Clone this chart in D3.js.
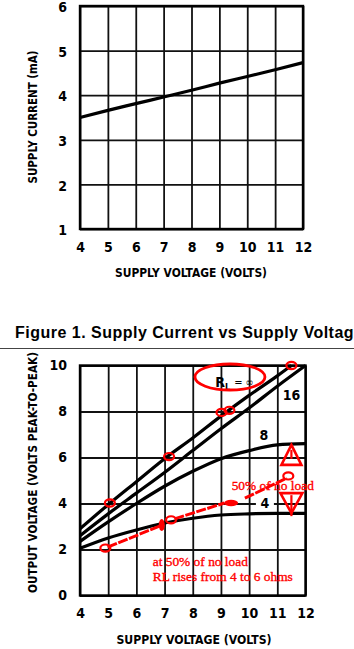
<!DOCTYPE html>
<html>
<head>
<meta charset="utf-8">
<script src="https://cdn.jsdelivr.net/npm/d3@7"></script>
<style>
  body { margin: 0; background: #fff; }
  svg { display: block; }
</style>
</head>
<body>
<div id="chart"></div>
<script>
// supply current / output voltage datasheet curves, with red markup

// ---- data ----
var voltTicks = [4, 5, 6, 7, 8, 9, 10, 11, 12];
var currentTicks = [1, 2, 3, 4, 5, 6];
var outTicks = [0, 2, 4, 6, 8, 10];

// figure 1: supply current (mA) vs supply voltage
var supplyVolts = [4, 5, 6, 7, 8, 9, 10, 11, 12];
var supplyCurrent = [3.5, 3.66, 3.81, 3.96, 4.11, 4.27, 4.42, 4.57, 4.73];

// output voltage (Vp-p) vs supply voltage, one array per load
var rlInfVolts = [4, 5, 6, 7, 8, 9, 10, 11, 11.5];
var rlInf = [2.9, 3.95, 4.95, 5.95, 6.85, 7.8, 8.7, 9.55, 10];
var rl16 = [2.6, 3.55, 4.45, 5.35, 6.3, 7.25, 8.15, 9.1, 10];
var rl8 = [2.35, 3.2, 4.0, 4.75, 5.4, 5.95, 6.3, 6.55, 6.6];
var rl4 = [2.05, 2.5, 2.85, 3.15, 3.36, 3.5, 3.55, 3.57, 3.57];

// red markup (in chart units)
var rlOval = [9.32, 9.5];
var markCircles = [[11.5, 10], [9.02, 7.96], [9.3, 8.05], [7.16, 6.04], [5.06, 4.02],
                   [4.9, 2.06], [7.23, 3.29], [11.39, 5.2]];
var markBlobs = [[6.9, 3.07], [9.36, 4.02]];
var markSegments = [[[4.98, 2.1], [6.85, 3.03]],
                    [[7.35, 3.33], [9.12, 4.02]],
                    [[9.85, 4.23], [11.33, 5.1]]];
var triUp = [11.5, 6.55];
var triDown = [11.5, 4.45];

var narrow = "'Liberation Sans Narrow','DejaVu Sans Condensed','Arial Narrow',sans-serif";

var svg = d3.select("#chart")
  .append("svg")
    .attr("width", 354)
    .attr("height", 649);

// ================= TOP CHART =================
var x1 = d3.scaleLinear().domain([4, 12]).range([80, 303]);
var y1 = d3.scaleLinear().domain([1, 6]).range([229, 6]);

var gTop = svg.append("g");

// grid
gTop.append("g")
    .attr("transform", "translate(0,229)")
    .call(d3.axisBottom(x1).tickValues(voltTicks).tickSize(-223).tickFormat(""))
    .call(g => g.select(".domain").remove())
    .selectAll("line").attr("stroke", "#111").attr("stroke-width", 1.8);
gTop.append("g")
    .attr("transform", "translate(80,0)")
    .call(d3.axisLeft(y1).tickValues(currentTicks).tickSize(-223).tickFormat(""))
    .call(g => g.select(".domain").remove())
    .selectAll("line").attr("stroke", "#111").attr("stroke-width", 1.8);

gTop.append("rect")
    .attr("x", x1(4)).attr("y", y1(6))
    .attr("width", x1(12) - x1(4)).attr("height", y1(1) - y1(6))
    .attr("fill", "none").attr("stroke", "#000").attr("stroke-width", 2.4);

// tick labels
var tx1 = gTop.append("g")
    .attr("transform", "translate(0,229)")
    .call(d3.axisBottom(x1).tickValues(voltTicks).tickFormat(d3.format("d")).tickSize(0).tickPadding(13));
var ty1 = gTop.append("g")
    .attr("transform", "translate(80,0)")
    .call(d3.axisLeft(y1).tickValues(currentTicks).tickFormat(d3.format("d")).tickSize(0).tickPadding(13));
[tx1, ty1].forEach(function(g) {
  g.select(".domain").remove();
  g.selectAll("text")
    .attr("font-family", narrow).attr("font-weight", "bold")
    .attr("font-size", 14).attr("fill", "#000");
});
ty1.selectAll("text").attr("dy", "0.4em");

var line1 = d3.line()
    .x(function(d) { return x1(d[0]); })
    .y(function(d) { return y1(d[1]); })
    .curve(d3.curveMonotoneX);

gTop.append("path")
    .datum(supplyVolts.map(function(v, i) { return [v, supplyCurrent[i]]; }))
    .attr("d", line1)
    .attr("fill", "none").attr("stroke", "#000").attr("stroke-width", 3.2);

gTop.append("text")
    .attr("x", 191).attr("y", 277)
    .attr("text-anchor", "middle")
    .attr("font-family", narrow).attr("font-weight", "bold").attr("font-size", 13)
    .attr("textLength", 152).attr("lengthAdjust", "spacingAndGlyphs")
    .text("SUPPLY VOLTAGE (VOLTS)");

gTop.append("text")
    .attr("transform", "translate(37,117) rotate(-90)")
    .attr("text-anchor", "middle")
    .attr("font-family", narrow).attr("font-weight", "bold").attr("font-size", 13)
    .attr("textLength", 133).attr("lengthAdjust", "spacingAndGlyphs")
    .text("SUPPLY CURRENT (mA)");

// ================= CAPTION =================
svg.append("text")
    .attr("x", 15).attr("y", 337.5)
    .attr("font-family", "'Liberation Sans',Arial,sans-serif")
    .attr("font-weight", "bold").attr("font-size", 16)
    .attr("textLength", 348).attr("lengthAdjust", "spacing")
    .text("Figure 1. Supply Current vs Supply Voltage");

svg.append("line")
    .attr("x1", 0).attr("x2", 354)
    .attr("y1", 348.5).attr("y2", 348.5)
    .attr("stroke", "#444").attr("stroke-width", 1.2);

// ================= BOTTOM CHART =================
var x2 = d3.scaleLinear().domain([4, 12]).range([80, 305.5]);
var y2 = d3.scaleLinear().domain([0, 10]).range([595.5, 365.5]);

var gBot = svg.append("g");

gBot.append("g")
    .attr("transform", "translate(0,595.5)")
    .call(d3.axisBottom(x2).tickValues(voltTicks).tickSize(-230).tickFormat(""))
    .call(g => g.select(".domain").remove())
    .selectAll("line").attr("stroke", "#111").attr("stroke-width", 1.8);
gBot.append("g")
    .attr("transform", "translate(80,0)")
    .call(d3.axisLeft(y2).tickValues(outTicks).tickSize(-225.5).tickFormat(""))
    .call(g => g.select(".domain").remove())
    .selectAll("line").attr("stroke", "#111").attr("stroke-width", 1.8);

gBot.append("rect")
    .attr("x", x2(4)).attr("y", y2(10))
    .attr("width", x2(12) - x2(4)).attr("height", y2(0) - y2(10))
    .attr("fill", "none").attr("stroke", "#000").attr("stroke-width", 2.4);

var tx2 = gBot.append("g")
    .attr("transform", "translate(0,595.5)")
    .call(d3.axisBottom(x2).tickValues(voltTicks).tickFormat(d3.format("d")).tickSize(0).tickPadding(13));
var ty2 = gBot.append("g")
    .attr("transform", "translate(80,0)")
    .call(d3.axisLeft(y2).tickValues(outTicks).tickFormat(d3.format("d")).tickSize(0).tickPadding(13));
[tx2, ty2].forEach(function(g) {
  g.select(".domain").remove();
  g.selectAll("text")
    .attr("font-family", narrow).attr("font-weight", "bold")
    .attr("font-size", 14).attr("fill", "#000");
});

var line2 = d3.line()
    .x(function(d) { return x2(d[0]); })
    .y(function(d) { return y2(d[1]); })
    .curve(d3.curveMonotoneX);

var curves = [
  rlInfVolts.map(function(v, i) { return [v, rlInf[i]]; }),
  supplyVolts.map(function(v, i) { return [v, rl16[i]]; }),
  supplyVolts.map(function(v, i) { return [v, rl8[i]]; }),
  supplyVolts.map(function(v, i) { return [v, rl4[i]]; })
];

gBot.selectAll(".curve")
    .data(curves)
  .enter().append("path")
    .attr("class", "curve")
    .attr("d", line2)
    .attr("fill", "none").attr("stroke", "#000").attr("stroke-width", 3.2);

// curve labels
gBot.append("rect")
    .attr("x", x2(10.56) - 9).attr("y", y2(4) - 2)
    .attr("width", 18).attr("height", 4)
    .attr("fill", "#fff");
var curveLabels = [["16", 11.5, 8.51], ["8", 10.52, 6.77], ["4", 10.56, 3.81]];
gBot.selectAll(".clab")
    .data(curveLabels)
  .enter().append("text")
    .attr("class", "clab")
    .attr("x", function(d) { return x2(d[1]); })
    .attr("y", function(d) { return y2(d[2]); })
    .attr("text-anchor", "middle")
    .attr("font-family", narrow).attr("font-weight", "bold").attr("font-size", 14)
    .text(function(d) { return d[0]; });

var rlText = gBot.append("text")
    .attr("x", x2(8.8)).attr("y", y2(9.08))
    .attr("font-family", narrow).attr("font-weight", "bold").attr("font-size", 14);
rlText.append("tspan").text("R");
rlText.append("tspan").attr("font-size", 9).attr("dy", 3).text("L");
rlText.append("tspan").attr("font-size", 11).attr("font-weight", "normal").attr("dy", -4).attr("dx", 4).text("= ∞");

gBot.append("text")
    .attr("x", 194).attr("y", 644)
    .attr("text-anchor", "middle")
    .attr("font-family", narrow).attr("font-weight", "bold").attr("font-size", 13)
    .attr("textLength", 155).attr("lengthAdjust", "spacingAndGlyphs")
    .text("SUPPLY VOLTAGE (VOLTS)");

gBot.append("text")
    .attr("transform", "translate(37,472.5) rotate(-90)")
    .attr("text-anchor", "middle")
    .attr("font-family", narrow).attr("font-weight", "bold").attr("font-size", 13)
    .attr("textLength", 241).attr("lengthAdjust", "spacingAndGlyphs")
    .text("OUTPUT VOLTAGE (VOLTS PEAK-TO-PEAK)");

// ---- red markup ----
var red = "#f00";
var marks = svg.append("g");

marks.append("ellipse")
    .attr("cx", x2(rlOval[0])).attr("cy", y2(rlOval[1]))
    .attr("rx", 35).attr("ry", 13)
    .attr("fill", "none").attr("stroke", red).attr("stroke-width", 2.8);

marks.selectAll(".seg")
    .data(markSegments)
  .enter().append("line")
    .attr("class", "seg")
    .attr("x1", function(d) { return x2(d[0][0]); })
    .attr("y1", function(d) { return y2(d[0][1]); })
    .attr("x2", function(d) { return x2(d[1][0]); })
    .attr("y2", function(d) { return y2(d[1][1]); })
    .attr("stroke", red).attr("stroke-width", 3)
    .attr("stroke-dasharray", "10,1.5");

marks.selectAll(".circ")
    .data(markCircles)
  .enter().append("ellipse")
    .attr("class", "circ")
    .attr("cx", function(d) { return x2(d[0]); })
    .attr("cy", function(d) { return y2(d[1]); })
    .attr("rx", 5).attr("ry", 3.6)
    .attr("fill", "none").attr("stroke", red).attr("stroke-width", 2.2);

marks.append("ellipse")
    .attr("cx", x2(markBlobs[0][0])).attr("cy", y2(markBlobs[0][1]))
    .attr("rx", 3).attr("ry", 6).attr("fill", red);
marks.append("ellipse")
    .attr("cx", x2(markBlobs[1][0])).attr("cy", y2(markBlobs[1][1]))
    .attr("rx", 7).attr("ry", 3.2).attr("fill", red);

// warning triangles
var ux = x2(triUp[0]), uy = y2(triUp[1]);
marks.append("path")
    .attr("d", "M" + ux + "," + uy + "L" + (ux + 10) + "," + (uy + 20) + "L" + (ux - 10) + "," + (uy + 20) + "Z")
    .attr("fill", "none").attr("stroke", red).attr("stroke-width", 2.6)
    .attr("stroke-linejoin", "miter");
marks.append("line")
    .attr("x1", ux).attr("x2", ux).attr("y1", uy + 5).attr("y2", uy + 14)
    .attr("stroke", red).attr("stroke-width", 2.2);

var dx = x2(triDown[0]), dy = y2(triDown[1]);
marks.append("path")
    .attr("d", "M" + (dx - 11) + "," + dy + "L" + (dx + 11) + "," + dy + "L" + dx + "," + (dy + 20) + "Z")
    .attr("fill", "none").attr("stroke", red).attr("stroke-width", 2.6);
marks.append("line")
    .attr("x1", dx).attr("x2", dx).attr("y1", dy + 2).attr("y2", dy + 23)
    .attr("stroke", red).attr("stroke-width", 2.2);

// notes
var notes = [["50% of no load", 9.38, 4.6],
             ["at 50% of no load", 6.58, 1.29],
             ["RL rises from 4 to 6 ohms", 6.58, 0.64]];
marks.selectAll(".note")
    .data(notes)
  .enter().append("text")
    .attr("class", "note")
    .attr("x", function(d) { return x2(d[1]); })
    .attr("y", function(d) { return y2(d[2]); })
    .attr("font-family", "'Liberation Serif','Times New Roman',serif")
    .attr("font-size", 13.4)
    .attr("fill", red)
    .attr("stroke", red).attr("stroke-width", 0.35)
    .text(function(d) { return d[0]; });
</script>
</body>
</html>
